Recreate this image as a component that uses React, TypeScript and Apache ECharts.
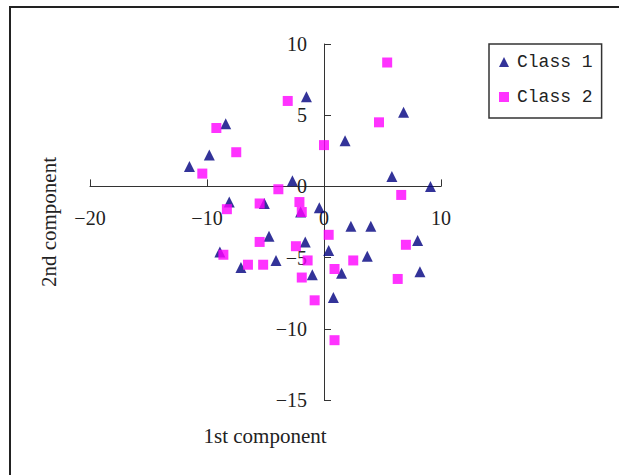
import React, { useEffect, useRef } from "react";
import * as echarts from "echarts";

// Scores on the first two components, one array per coordinate and class
const class1X = [-1.5, -8.4, 6.8, 1.8, -9.8, -11.5, -2.7, 5.8, 9.1, -8.1, -5.1, -2.0, -0.4, 2.3, 4.0, -4.7, -1.6, 8.0, -8.9, 0.4, 3.7, -4.1, -7.1, -1.0, 1.5, 8.2, 0.8];
const class1Y = [6.3, 4.4, 5.2, 3.2, 2.2, 1.4, 0.4, 0.7, 0.0, -1.1, -1.2, -1.8, -1.5, -2.8, -2.8, -3.5, -3.9, -3.8, -4.6, -4.5, -4.9, -5.2, -5.7, -6.2, -6.1, -6.0, -7.8];
const class2X = [5.4, -3.1, -9.2, 4.7, 0.0, -7.5, -10.4, -3.9, 6.6, -5.5, -2.1, -8.3, -1.9, 0.4, -5.5, 7.0, -2.4, -8.6, -1.4, 2.5, -6.5, -5.2, 0.9, -1.9, 6.3, -0.8, 0.9];
const class2Y = [8.7, 6.0, 4.1, 4.5, 2.9, 2.4, 0.9, -0.2, -0.6, -1.2, -1.1, -1.6, -1.8, -3.4, -3.9, -4.1, -4.2, -4.8, -5.2, -5.2, -5.5, -5.5, -5.8, -6.4, -6.5, -8.0, -10.8];

const seriesNames = ["Class 1", "Class 2"];
const xAxisTitle = "1st component";
const yAxisTitle = "2nd component";

const zip = (xs: number[], ys: number[]) => xs.map((x, i) => [x, ys[i]]);
const minusSign = (v: number) => String(v).replace("-", "\u2212");

// Plot area in pixels
const GRID_LEFT = 90;
const GRID_TOP = 44;
const GRID_W = 351;
const GRID_H = 356;
const X_MIN = -20, X_MAX = 10;
const Y_MIN = -15, Y_MAX = 10;

export default function App() {
  const ref = useRef<HTMLDivElement>(null);

  useEffect(() => {
    if (!ref.current) return;
    const chart = echarts.init(ref.current, null, { renderer: "svg" });
    const serif = "'Liberation Serif', 'Times New Roman', serif";
    const axisColor = "#333";

    // Axes cross at the origin: shift each axis from the grid edge to zero
    const xZeroPx = GRID_LEFT + ((0 - X_MIN) / (X_MAX - X_MIN)) * GRID_W;
    const yZeroPx = GRID_TOP + ((Y_MAX - 0) / (Y_MAX - Y_MIN)) * GRID_H;
    const yAxisOffset = -(xZeroPx - GRID_LEFT);
    const xAxisOffset = -(GRID_TOP + GRID_H - yZeroPx);

    chart.setOption({
      animation: false,
      backgroundColor: "#fff",
      grid: {
        left: GRID_LEFT,
        top: GRID_TOP,
        width: GRID_W,
        height: GRID_H,
      },
      xAxis: {
        type: "value",
        min: X_MIN,
        max: X_MAX,
        interval: 10,
        position: "bottom",
        offset: xAxisOffset,
        splitLine: { show: false },
        axisLine: { onZero: false, lineStyle: { color: axisColor, width: 1 } },
        axisTick: { show: true, inside: true, length: 7, lineStyle: { color: axisColor } },
        axisLabel: {
          margin: 22,
          color: "#222",
          fontFamily: serif,
          fontSize: 20,
          formatter: minusSign,
        },
      },
      yAxis: {
        type: "value",
        min: Y_MIN,
        max: Y_MAX,
        interval: 5,
        position: "left",
        offset: yAxisOffset,
        splitLine: { show: false },
        axisLine: { onZero: false, lineStyle: { color: axisColor, width: 1 } },
        axisTick: { show: true, inside: true, length: 7, lineStyle: { color: axisColor } },
        axisLabel: {
          margin: 17,
          color: "#222",
          fontFamily: serif,
          fontSize: 20,
          formatter: minusSign,
        },
      },
      legend: {
        orient: "vertical",
        left: 489,
        top: 44,
        padding: [8, 9, 11, 10],
        itemGap: 15,
        itemWidth: 10,
        itemHeight: 10,
        borderColor: "#333",
        borderWidth: 1.5,
        backgroundColor: "#fff",
        textStyle: {
          fontFamily: "'Liberation Mono', 'DejaVu Sans Mono', monospace",
          fontSize: 18,
          lineHeight: 20,
          color: "#222",
          padding: [0, 0, 0, 3],
        },
        data: seriesNames,
      },
      series: [
        {
          name: seriesNames[0],
          type: "scatter",
          symbol: "triangle",
          symbolSize: 11,
          itemStyle: { color: "#000080" },
          data: zip(class1X, class1Y),
        },
        {
          name: seriesNames[1],
          type: "scatter",
          symbol: "rect",
          symbolSize: 10,
          itemStyle: { color: "#FF00FF" },
          data: zip(class2X, class2Y),
        },
      ],
      graphic: [
        {
          type: "rect",
          shape: { x: 10, y: 7, width: 640, height: 500 },
          style: { fill: "none", stroke: "#222", lineWidth: 2 },
          silent: true,
        },
        {
          type: "text",
          x: 265,
          y: 436,
          style: {
            text: xAxisTitle,
            fontFamily: serif,
            fontSize: 21,
            fill: "#222",
            align: "center",
            verticalAlign: "middle",
          },
        },
        {
          type: "text",
          x: 49,
          y: 222,
          rotation: Math.PI / 2,
          style: {
            text: yAxisTitle,
            fontFamily: serif,
            fontSize: 21,
            fill: "#222",
            align: "center",
            verticalAlign: "middle",
          },
        },
      ],
    });

    return () => chart.dispose();
  }, []);

  return (
    <div
      ref={ref}
      style={{ position: "fixed", left: 0, top: 0, width: 619, height: 475 }}
    />
  );
}
